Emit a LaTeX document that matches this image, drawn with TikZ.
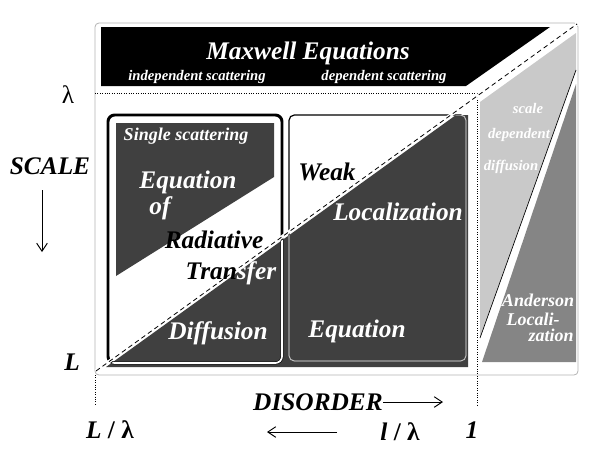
\documentclass[tikz,border=0pt]{standalone}
\usepackage{fontspec}
\setmainfont{Liberation Serif}
\usetikzlibrary{arrows.meta, positioning}
\definecolor{darkfill}{gray}{0.25}
\definecolor{lightpanel}{gray}{0.79}
\definecolor{midpanel}{gray}{0.52}

\begin{document}
\begin{tikzpicture}[x=0.75pt, y=-0.75pt,
  big/.style={font=\bfseries\itshape\fontsize{19}{22}\selectfont, inner sep=0pt},
  small/.style={font=\bfseries\itshape\fontsize{11}{13}\selectfont, inner sep=0pt},
  mid/.style={font=\bfseries\itshape\fontsize{13.5}{15}\selectfont, inner sep=0pt},
  barb/.style={-{Straight Barb[length=6pt, width=8pt]}, line width=0.7pt},
  dots/.style={dash pattern=on 0.6pt off 1.2pt, line width=0.6pt}]

  \useasboundingbox (0,0) rectangle (598,461);

  \draw[gray!60, line width=0.6pt, rounded corners=3pt] (95,23) rectangle (578,375);

  \fill[black] (101,27) -- (550,27) -- (466,86) -- (101,86) -- cycle;

  \draw[dots] (95,93) -- (477,93) -- (477,405);
  \draw[dots] (95,375) -- (95,405);

  \fill[darkfill] (106,367) -- (468,367) -- (468,115) -- (456,115) -- cycle;

  \draw[line width=2.2pt, rounded corners=5pt] (108,115) rectangle (282,363);
  \draw[line width=0.9pt, rounded corners=4pt] (289,115) rectangle (466,361);
  \begin{scope}
    \clip (106,367) -- (468,367) -- (468,115) -- (456,115) -- cycle;
    \draw[white, line width=1.3pt, rounded corners=5pt] (108,115) rectangle (282,363);
    \draw[gray!55, line width=0.9pt, rounded corners=4pt] (289,115) rectangle (466,361);
  \end{scope}

  \fill[darkfill] (116,123) -- (274,123) -- (274,177) -- (116,276) -- cycle;

  \fill[lightpanel] (480,102) -- (576,33) -- (576,70) -- (480,338) -- cycle;
  \draw[line width=0.5pt] (576,70) -- (480,338);
  \fill[midpanel] (482,362) -- (576,362) -- (576,84) -- cycle;

  \draw[white, line width=2.5pt] (96,371) -- (577,24);
  \draw[dash pattern=on 3.5pt off 2.5pt, line width=0.6pt] (96,371) -- (577,24);

  \node[big, white] (maxw) at (308,53) {Maxwell Equations};
  \node[small, white] (indep) at (197,77) {independent scattering};
  \node[small, white] (dep) at (384,77) {dependent scattering};

  \node[font=\fontsize{19}{22}\selectfont, inner sep=0pt] (lam) at (68,95) {λ};
  \node[big] (scale) at (50,166) {SCALE};
  \coordinate (stop) at (42,190);
  \coordinate (sdown) at (42,252);
  \draw[barb] (stop) -- (sdown);

  \node[big] (lcorner) at (72,362) {L};
  \node[big] (llam) at (110,430) {L {\upshape / λ}};

  \node[big] (disorder) at (318,402) {DISORDER};
  \coordinate (dright) at (443,402);
  \draw[barb] (disorder.east) -- (dright);

  \coordinate (bstart) at (337,432);
  \coordinate (bend) at (267,432);
  \draw[barb] (bstart) -- (bend);
  \node[big] (lsmall) at (400,432) {l {\upshape / λ}};
  \node[big] (one) at (472,430) {1};

  \node[mid, white] (single) at (186,136) {Single scattering};
  \node[big, white] (eqa) at (188,182) {Equation};
  \node[big, white] (eqof) at (160,208) {of};
  \node[big] (rad) at (214,240) {Radiative};
  \node[big] (transfer) at (231,273) {Tran\textcolor{white}{sfer}};
  \node[big, white] (diff) at (218,333) {Diffusion};

  \node[big] (weak) at (327,172) {Weak};
  \node[big, white] (loc) at (398,212) {Localization};
  \node[big, white] (eqb) at (357,331) {Equation};

  \node[small, white] (scl) at (528,108) {scale};
  \node[small, white] (sdep) at (519,135) {dependent};
  \node[small, white] (sdiff) at (511,167) {diffusion};
  \node[mid, white] (and) at (538,300) {Anderson};
  \node[mid, white] (locali) at (533,319) {Locali-};
  \node[mid, white] (zation) at (551,335) {zation};
\end{tikzpicture}
\end{document}
